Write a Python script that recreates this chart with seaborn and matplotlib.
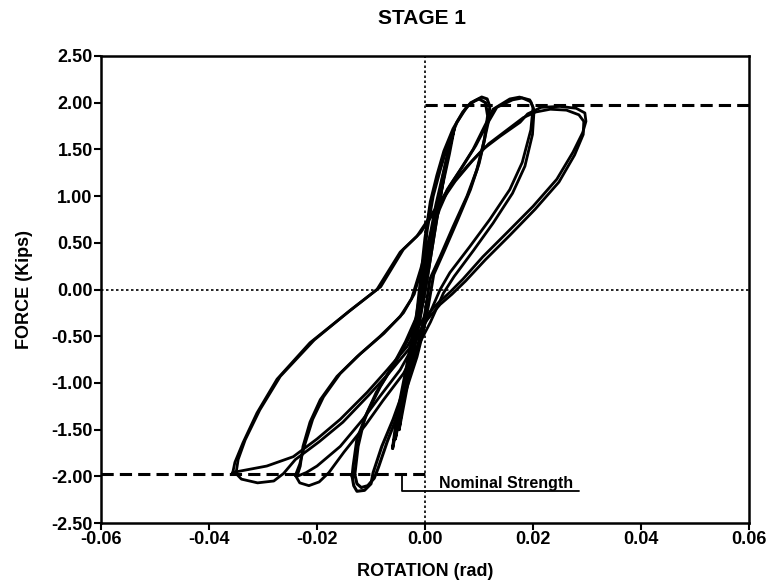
import numpy as np
import pandas as pd
import matplotlib
matplotlib.use("Agg")
import matplotlib.pyplot as plt
import seaborn as sns

# ---------------------------------------------------------------------------
# digitised hysteresis loops (rotation in rad, force in kips)
# ---------------------------------------------------------------------------
# largest cycles (~0.03 rad)
big1_rot = [-0.0356, -0.0348, -0.0293, -0.0244, -0.0200, -0.0157, -0.0107, -0.0070,
            -0.0033, -0.0004, 0.0025, 0.0046, 0.0070, 0.0107, 0.0152, 0.0200, 0.0244,
            0.0274, 0.0292, 0.0298, 0.0296, 0.0280, 0.0250, 0.0215, 0.0190, 0.0176,
            0.0139, 0.0107, 0.0078, 0.0046, 0.0022, -0.0015, -0.0046, -0.0089, -0.0144,
            -0.0213, -0.0274, -0.0311, -0.0337, -0.0352, -0.0356]
big1_force = [-1.96, -1.95, -1.89, -1.79, -1.60, -1.39, -1.10, -0.86,
              -0.61, -0.32, -0.14, -0.03, 0.11, 0.35, 0.61, 0.89, 1.18,
              1.47, 1.68, 1.80, 1.89, 1.94, 1.96, 1.95, 1.88, 1.79,
              1.64, 1.50, 1.32, 1.10, 0.89, 0.57, 0.40, 0.00, -0.25,
              -0.57, -0.96, -1.32, -1.64, -1.85, -1.96]

big2_rot = [-0.0350, -0.0340, -0.0310, -0.0280, -0.0262, -0.0240, -0.0196, -0.0152,
            -0.0104, -0.0066, -0.0030, 0.0000, 0.0028, 0.0050, 0.0075, 0.0112, 0.0157,
            0.0204, 0.0248, 0.0277, 0.0293, 0.0294, 0.0285, 0.0262, 0.0232, 0.0205,
            0.0182, 0.0150, 0.0118, 0.0088, 0.0056, 0.0030, -0.0008, -0.0040, -0.0082,
            -0.0138, -0.0205, -0.0268, -0.0306, -0.0333, -0.0346, -0.0350]
big2_force = [-1.97, -2.03, -2.07, -2.05, -1.97, -1.82, -1.63, -1.42,
              -1.13, -0.89, -0.64, -0.35, -0.16, -0.05, 0.09, 0.32, 0.58,
              0.86, 1.15, 1.44, 1.66, 1.80, 1.87, 1.92, 1.93, 1.90,
              1.84, 1.70, 1.56, 1.38, 1.16, 0.94, 0.61, 0.43, 0.03, -0.22,
              -0.54, -0.93, -1.29, -1.61, -1.82, -1.97]

# medium cycles (~0.02 rad)
mid1_rot = [-0.0237, -0.0220, -0.0200, -0.0157, -0.0115, -0.0083, -0.0046, -0.0022,
            0.0004, 0.0028, 0.0046, 0.0083, 0.0120, 0.0157, 0.0180, 0.0196, 0.0200,
            0.0194, 0.0175, 0.0157, 0.0126, 0.0107, 0.0089, 0.0065, 0.0041, 0.0022,
            0.0008, -0.0008, -0.0025, -0.0046, -0.0083, -0.0126, -0.0163, -0.0194,
            -0.0213, -0.0226, -0.0231, -0.0237]
mid1_force = [-2.00, -1.96, -1.89, -1.68, -1.39, -1.14, -0.86, -0.61,
              -0.32, 0.00, 0.18, 0.46, 0.75, 1.07, 1.36, 1.71, 1.95,
              2.03, 2.06, 2.04, 1.93, 1.71, 1.50, 1.28, 1.07, 0.82,
              0.55, 0.22, -0.10, -0.29, -0.50, -0.72, -0.93, -1.18,
              -1.42, -1.68, -1.89, -2.00]

mid2_rot = [-0.0240, -0.0232, -0.0215, -0.0196, -0.0178, -0.0150, -0.0110, -0.0078,
            -0.0040, -0.0016, 0.0010, 0.0034, 0.0054, 0.0090, 0.0126, 0.0162, 0.0185,
            0.0199, 0.0202, 0.0196, 0.0180, 0.0162, 0.0133, 0.0113, 0.0094, 0.0070,
            0.0046, 0.0027, 0.0012, -0.0004, -0.0020, -0.0040, -0.0076, -0.0120,
            -0.0157, -0.0188, -0.0208, -0.0222, -0.0232, -0.0240]
mid2_force = [-1.99, -2.07, -2.10, -2.06, -1.96, -1.74, -1.45, -1.19,
              -0.90, -0.64, -0.35, -0.04, 0.14, 0.42, 0.71, 1.03, 1.32,
              1.66, 1.92, 2.01, 2.05, 2.03, 1.95, 1.75, 1.54, 1.32, 1.11,
              0.86, 0.60, 0.27, -0.05, -0.25, -0.47, -0.69, -0.90, -1.15,
              -1.39, -1.65, -1.87, -1.99]

# small cycles (~0.01 rad)
sml1_rot = [-0.0135, -0.0132, -0.0126, -0.0112, -0.0100, -0.0096, -0.0080, -0.0059,
            -0.0041, -0.0022, -0.0009, 0.0000, 0.0009, 0.0028, 0.0052, 0.0078, 0.0096,
            0.0107, 0.0117, 0.0120, 0.0115, 0.0105, 0.0092, 0.0078, 0.0059, 0.0041,
            0.0028, 0.0015, 0.0004, -0.0004, -0.0009, -0.0028, -0.0052, -0.0083,
            -0.0107, -0.0126, -0.0133, -0.0135]
sml1_force = [-2.00, -2.10, -2.16, -2.15, -2.08, -1.96, -1.68, -1.39,
              -1.10, -0.78, -0.50, -0.25, 0.11, 0.35, 0.67, 1.00, 1.28,
              1.53, 1.79, 1.96, 2.04, 2.06, 2.02, 1.96, 1.79, 1.53,
              1.28, 1.00, 0.64, 0.20, -0.25, -0.50, -0.75, -1.04,
              -1.32, -1.60, -1.89, -2.00]

sml2_rot = [-0.0130, -0.0126, -0.0118, -0.0106, -0.0094, -0.0086, -0.0070, -0.0050,
            -0.0033, -0.0015, -0.0003, 0.0006, 0.0016, 0.0036, 0.0060, 0.0084, 0.0100,
            0.0110, 0.0116, 0.0112, 0.0100, 0.0085, 0.0070, 0.0052, 0.0035, 0.0022,
            0.0010, 0.0000, -0.0008, -0.0016, -0.0036, -0.0060, -0.0090, -0.0112,
            -0.0124, -0.0130]
sml2_force = [-1.98, -2.08, -2.12, -2.10, -2.02, -1.90, -1.63, -1.33,
              -1.04, -0.72, -0.44, -0.18, 0.16, 0.42, 0.74, 1.07, 1.35,
              1.60, 1.86, 2.00, 2.04, 2.00, 1.90, 1.72, 1.48, 1.22,
              0.94, 0.55, 0.12, -0.30, -0.56, -0.82, -1.10, -1.38,
              -1.68, -1.98]

# near-elastic cycles around the origin
ela1_rot = [-0.0060, -0.0045, -0.0025, -0.0008, 0.0008, 0.0028, 0.0045, 0.0054,
            0.0040, 0.0020, 0.0002, -0.0015, -0.0035, -0.0052, -0.0060]
ela1_force = [-1.70, -1.25, -0.70, -0.15, 0.40, 1.00, 1.45, 1.72,
              1.40, 0.90, 0.35, -0.25, -0.85, -1.35, -1.70]

ela2_rot = [-0.0055, -0.0036, -0.0016, 0.0002, 0.0018, 0.0034, 0.0046, 0.0032,
            0.0014, -0.0004, -0.0022, -0.0042, -0.0055]
ela2_force = [-1.60, -1.08, -0.50, 0.05, 0.62, 1.18, 1.55, 1.18,
              0.62, 0.02, -0.55, -1.12, -1.60]

ela3_rot = [-0.0048, -0.0030, -0.0012, 0.0004, 0.0020, 0.0036, 0.0026, 0.0010,
            -0.0006, -0.0024, -0.0040, -0.0048]
ela3_force = [-1.50, -0.95, -0.40, 0.12, 0.70, 1.25, 0.95, 0.45,
              -0.08, -0.62, -1.15, -1.50]

nominal_strength = 1.97
bracket_x = [-0.0043, -0.0043, 0.0285]
bracket_y = [-1.97, -2.16, -2.16]

x_ticks = [-0.06, -0.04, -0.02, 0.00, 0.02, 0.04, 0.06]
y_ticks = [2.50, 2.00, 1.50, 1.00, 0.50, 0.00, -0.50, -1.00, -1.50, -2.00, -2.50]

loops = {
    "big1": (big1_rot, big1_force), "big2": (big2_rot, big2_force),
    "mid1": (mid1_rot, mid1_force), "mid2": (mid2_rot, mid2_force),
    "sml1": (sml1_rot, sml1_force), "sml2": (sml2_rot, sml2_force),
    "ela1": (ela1_rot, ela1_force), "ela2": (ela2_rot, ela2_force),
    "ela3": (ela3_rot, ela3_force),
}
frames = []
for name, (r, f) in loops.items():
    frames.append(pd.DataFrame({"rotation": r, "force": f, "cycle": name}))
df = pd.concat(frames, ignore_index=True)

# ---------------------------------------------------------------------------
sns.set_style("ticks")
plt.rcParams["font.family"] = ["Liberation Sans", "DejaVu Sans"]
plt.rcParams["font.weight"] = "bold"
for key in ["text.color", "axes.labelcolor", "xtick.color", "ytick.color", "axes.edgecolor"]:
    plt.rcParams[key] = "black"

fig, ax = plt.subplots(figsize=(7.75, 5.88), dpi=100)
fig.subplots_adjust(left=0.1303, right=0.9665, bottom=0.1105, top=0.9048)

# reference lines
ax.axhline(0, color="black", lw=1.2, ls=(0, (1.5, 1.5)), zorder=1)
ax.axvline(0, color="black", lw=1.2, ls=(0, (1.5, 1.5)), zorder=1)
ax.plot([0, 0.06], [nominal_strength, nominal_strength], color="black", lw=2.2,
        ls=(0, (4, 2)), zorder=2)
ax.plot([-0.06, 0], [-nominal_strength, -nominal_strength], color="black", lw=2.2,
        ls=(0, (4, 2)), zorder=2)

for name in loops:
    sub = df[df["cycle"] == name]
    lw = 2.0 if name.startswith(("big", "mid")) else 2.2
    sns.lineplot(data=sub, x="rotation", y="force", sort=False, estimator=None,
                 color="black", lw=lw, ax=ax, zorder=3, solid_joinstyle="round")

ax.plot(bracket_x, bracket_y, color="black", lw=1.3)
ax.text(0.0026, -2.075, "Nominal Strength", fontsize=11.5, fontweight="bold",
        va="center", ha="left")

ax.set_xlim(-0.06, 0.06)
ax.set_ylim(-2.5, 2.5)
ax.set_xticks(x_ticks)
ax.set_yticks(y_ticks)
ax.set_xticklabels([f"{t:.2f}" for t in x_ticks])
ax.set_yticklabels([f"{t:.2f}" for t in y_ticks])
ax.tick_params(axis="both", direction="out", length=5, width=1.5, labelsize=13,
               pad=1, color="black", labelcolor="black")
for lab in ax.get_xticklabels() + ax.get_yticklabels():
    lab.set_fontweight("bold")
for s in ax.spines.values():
    s.set_linewidth(1.8)
    s.set_color("black")

ax.set_xlabel("ROTATION (rad)", fontsize=13, fontweight="bold", color="black")
ax.set_ylabel("FORCE (Kips)", fontsize=13, fontweight="bold", color="black")
ax.xaxis.set_label_coords(0.5, -0.085)
ax.yaxis.set_label_coords(-0.105, 0.5)
fig.suptitle("STAGE 1", fontsize=15, fontweight="bold", x=0.545, y=0.985, color="black")

fig.savefig("out.png", dpi=100)
